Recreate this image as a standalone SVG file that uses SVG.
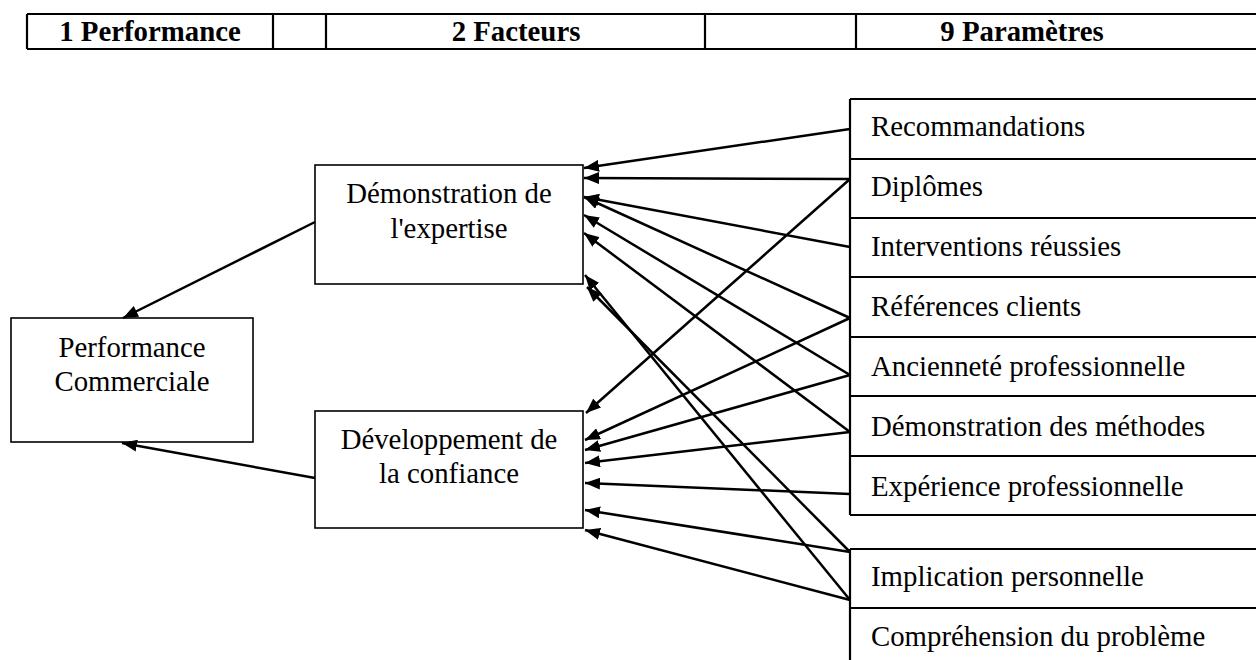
<svg xmlns="http://www.w3.org/2000/svg" width="1256" height="660" viewBox="0 0 1256 660">
<defs>
<style>
.t{font-family:"Liberation Serif","Times New Roman",serif;font-size:28.8px;fill:#000}
.b{font-weight:bold}
.m{text-anchor:middle}
.box{fill:#fff;stroke:#000;stroke-width:1.6}
.hl{stroke:#000;stroke-width:2.2;fill:none}
.c{stroke:#000;stroke-width:2.5;fill:none;marker-end:url(#ah)}
</style>
<marker id="ah" markerUnits="userSpaceOnUse" markerWidth="16" markerHeight="12" viewBox="0 0 16 12" refX="15" refY="6" orient="auto">
<path d="M0,0 L15,6 L0,12 z" fill="#000"/>
</marker>
</defs>
<rect width="1256" height="660" fill="#fff"/>

<g id="header">
<path class="hl" d="M27,14 H1258 M27,49 H1258 M27,14 V49 M273,14 V49 M326,14 V49 M705,14 V49 M856,14 V49"/>
<text class="t b m" x="150" y="41">1 Performance</text>
<text class="t b m" x="516" y="41">2 Facteurs</text>
<text class="t b m" x="1022" y="41">9 Paramètres</text>
</g>

<g id="performance">
<rect class="box" x="11" y="318" width="242" height="124"/>
<text class="t m" x="132" y="357">Performance</text>
<text class="t m" x="132" y="391">Commerciale</text>
</g>

<g id="expertise">
<rect class="box" x="315" y="165" width="268" height="119"/>
<text class="t m" x="449" y="203">Démonstration de</text>
<text class="t m" x="449" y="238">l'expertise</text>
</g>

<g id="confiance">
<rect class="box" x="315" y="411" width="268" height="117"/>
<text class="t m" x="449" y="449">Développement de</text>
<text class="t m" x="449" y="483">la confiance</text>
</g>

<g id="parametres1">
<path class="hl" d="M850,99 V515 M850,99 H1258 M850,159 H1258 M850,218 H1258 M850,277 H1258 M850,337 H1258 M850,396 H1258 M850,456 H1258 M850,515 H1258"/>
<text class="t" x="871" y="136">Recommandations</text>
<text class="t" x="871" y="196">Diplômes</text>
<text class="t" x="871" y="256">Interventions réussies</text>
<text class="t" x="871" y="316">Références clients</text>
<text class="t" x="871" y="376">Ancienneté professionnelle</text>
<text class="t" x="871" y="436">Démonstration des méthodes</text>
<text class="t" x="871" y="496">Expérience professionnelle</text>
</g>

<g id="parametres2">
<path class="hl" d="M850,549 V662 M850,549 H1258 M850,608 H1258"/>
<text class="t" x="871" y="586">Implication personnelle</text>
<text class="t" x="871" y="646">Compréhension du problème</text>
</g>

<g id="connectors">
<line class="c" x1="850" y1="129" x2="584" y2="168"/>
<line class="c" x1="850" y1="179" x2="584" y2="178"/>
<line class="c" x1="850" y1="247" x2="584" y2="197"/>
<line class="c" x1="850" y1="318" x2="584" y2="197"/>
<line class="c" x1="850" y1="375" x2="584" y2="215"/>
<line class="c" x1="850" y1="432" x2="584" y2="233"/>
<line class="c" x1="850" y1="600" x2="585" y2="275"/>
<line class="c" x1="850" y1="552" x2="587" y2="287"/>
<line class="c" x1="850" y1="179" x2="586" y2="413"/>
<line class="c" x1="850" y1="318" x2="585" y2="440"/>
<line class="c" x1="850" y1="375" x2="585" y2="450"/>
<line class="c" x1="850" y1="432" x2="585" y2="463"/>
<line class="c" x1="850" y1="494" x2="585" y2="483"/>
<line class="c" x1="850" y1="552" x2="585" y2="510"/>
<line class="c" x1="850" y1="600" x2="585" y2="530"/>
<line class="c" x1="315" y1="222" x2="123" y2="318"/>
<line class="c" x1="315" y1="478" x2="122" y2="443"/>
</g>
</svg>
